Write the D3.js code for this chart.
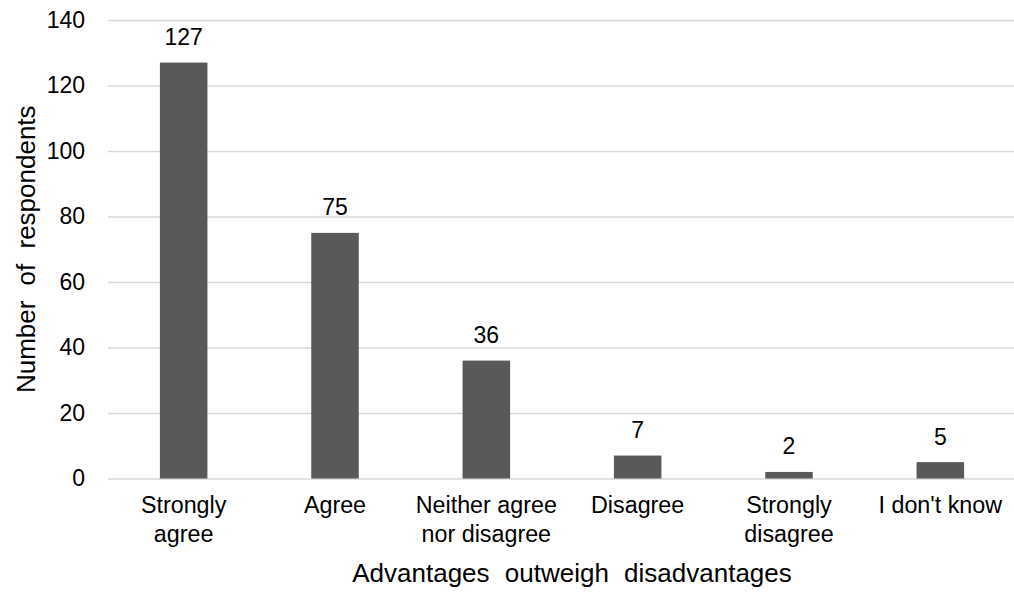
<!DOCTYPE html>
<html>
<head>
<meta charset="utf-8">
<script src="https://cdn.jsdelivr.net/npm/d3@7"></script>
<style>
  html, body { margin: 0; padding: 0; background: #fff; }
  svg { display: block; }
  text { font-family: "Liberation Sans", Arial, sans-serif; fill: #000; }
</style>
</head>
<body>
<svg id="chart" width="1014" height="592"></svg>
<script>
// Survey responses: "Advantages outweigh disadvantages"
const categories = [
  ["Strongly", "agree"],
  ["Agree"],
  ["Neither agree", "nor disagree"],
  ["Disagree"],
  ["Strongly", "disagree"],
  ["I don't know"]
];
const respondents = [127, 75, 36, 7, 2, 5];
const yTicks = [0, 20, 40, 60, 80, 100, 120, 140];

const svg = d3.select("#chart");
const plot = { left: 108, right: 1016, top: 20, bottom: 478.5 };

const keys = categories.map(c => c.join(" "));
const x = d3.scaleBand()
  .domain(keys)
  .range([plot.left, plot.right])
  .paddingInner(0.686)
  .paddingOuter(0.343);

const y = d3.scaleLinear()
  .domain([0, 140])
  .range([plot.bottom, plot.top]);

// Horizontal gridlines with value labels
const yAxis = d3.axisLeft(y)
  .tickValues(yTicks)
  .tickSize(-(plot.right - plot.left))
  .tickPadding(23)
  .tickFormat(d3.format("d"));

const gy = svg.append("g")
  .attr("transform", `translate(${plot.left},0)`)
  .call(yAxis);
gy.select(".domain").remove();
gy.selectAll(".tick line").attr("stroke", "#d9d9d9").attr("stroke-width", 1.3);
gy.selectAll(".tick text")
  .attr("font-size", 23)
  .attr("font-family", "Liberation Sans, Arial, sans-serif")
  .attr("fill", "#000");

// Bars
svg.append("g")
  .selectAll("rect")
  .data(respondents)
  .join("rect")
  .attr("x", (d, i) => x(keys[i]))
  .attr("y", d => y(d))
  .attr("width", x.bandwidth())
  .attr("height", d => y(0) - y(d))
  .attr("fill", "#595959");

// Value labels above bars
svg.append("g")
  .selectAll("text")
  .data(respondents)
  .join("text")
  .attr("x", (d, i) => x(keys[i]) + x.bandwidth() / 2)
  .attr("y", d => y(d) - 17.5)
  .attr("text-anchor", "middle")
  .attr("font-size", 23)
  .text(d => d);

// Category labels (wrapped onto two lines where needed)
const catLabels = svg.append("g")
  .selectAll("text")
  .data(categories)
  .join("text")
  .attr("x", (d, i) => x(keys[i]) + x.bandwidth() / 2)
  .attr("y", 513)
  .attr("text-anchor", "middle")
  .attr("font-size", 23.3);
catLabels.selectAll("tspan")
  .data(d => d)
  .join("tspan")
  .attr("x", function () { return d3.select(this.parentNode).attr("x"); })
  .attr("dy", (d, i) => i === 0 ? 0 : 28.5)
  .text(d => d);

// Axis titles
svg.append("text")
  .attr("x", (plot.left + plot.right) / 2 + 10)
  .attr("y", 582)
  .attr("text-anchor", "middle")
  .attr("font-size", 26)
  .attr("word-spacing", 8)
  .text("Advantages outweigh disadvantages");

svg.append("text")
  .attr("transform", `translate(35,${(plot.top + plot.bottom) / 2}) rotate(-90)`)
  .attr("text-anchor", "middle")
  .attr("font-size", 26)
  .attr("word-spacing", 8)
  .text("Number of respondents");
</script>
</body>
</html>
